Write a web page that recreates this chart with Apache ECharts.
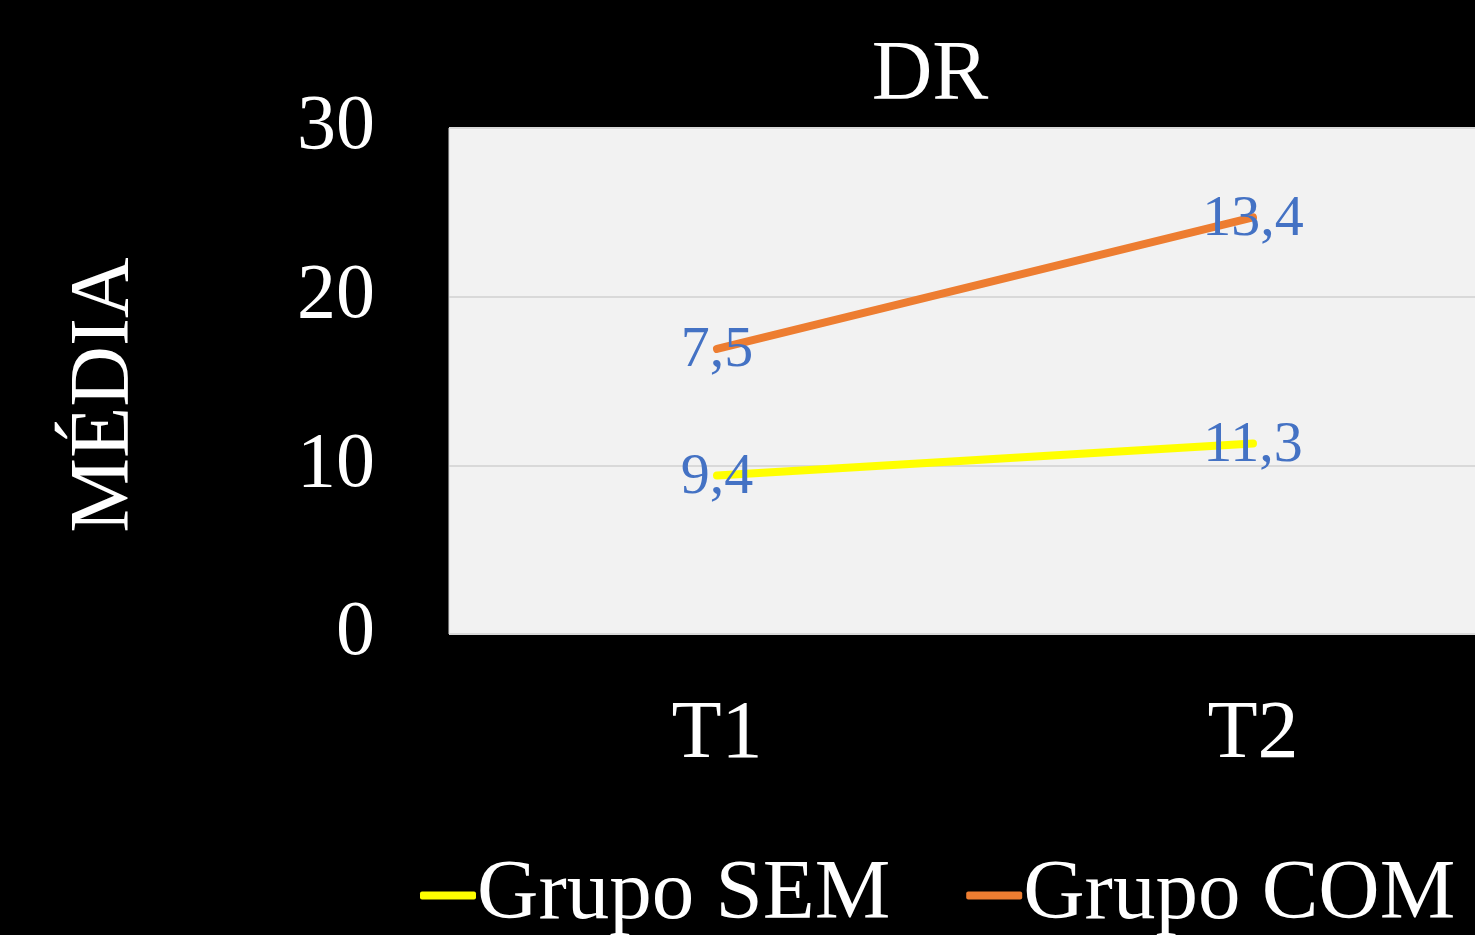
<!DOCTYPE html>
<html><head><meta charset="utf-8">
<script src="https://cdn.jsdelivr.net/npm/echarts@6/dist/echarts.min.js"></script>
<style>html,body{margin:0;padding:0;background:#000;overflow:hidden;width:1475px;height:935px;}#c{width:1521px;height:935px;}</style>
</head><body><div id="c"></div>
<script>
const categories = ['T1', 'T2'];
const grupoSEM = [9.4, 11.3];
const grupoCOM = [7.5, 13.4];
const yTicks = [0, 10, 20, 30];

const FONT = '"Liberation Serif", "Times New Roman", serif';
const chart = echarts.init(document.getElementById('c'));
const fmt = p => String(p.value).replace('.', ',');
const lbl = { show: true, position: 'inside', formatter: fmt, color: '#4472C4', fontFamily: FONT, fontSize: 58, offset: [0, 2] };
chart.setOption({
  backgroundColor: '#000000',
  animation: false,
  title: {
    text: 'DR', left: 925, top: 30, textAlign: 'center',
    textStyle: { color: '#fff', fontFamily: FONT, fontSize: 84, fontWeight: 'normal' }
  },
  grid: { left: 449, top: 128, bottom: 301, right: 0, show: true, backgroundColor: '#F2F2F2', borderColor: '#D9D9D9', borderWidth: 1 },
  legend: {
    left: 415, top: 848, itemWidth: 56, itemHeight: 8, itemGap: 76,
    icon: 'roundRect',
    textStyle: { color: '#fff', fontFamily: FONT, fontSize: 85, padding: [0,0,0,-4] },
    data: ['Grupo SEM', 'Grupo COM']
  },
  xAxis: {
    type: 'category', data: categories, boundaryGap: true,
    axisLine: { show: false }, axisTick: { show: false },
    axisLabel: { color: '#fff', fontFamily: FONT, fontSize: 82, margin: 60 }
  },
  yAxis: {
    type: 'value', min: yTicks[0], max: yTicks[yTicks.length - 1], interval: 10,
    name: 'MÉDIA', nameLocation: 'middle', nameGap: 301,
    nameTextStyle: { color: '#fff', fontFamily: FONT, fontSize: 84, padding: [0, 28, 0, 0] },
    axisLine: { show: false }, axisTick: { show: false },
    axisLabel: { color: '#fff', fontFamily: FONT, fontSize: 78, margin: 74 },
    splitLine: { lineStyle: { color: '#D9D9D9', width: 2 } }
  },
  series: [
    {
      name: 'Grupo SEM', type: 'line', stack: 'total', data: grupoSEM,
      symbol: 'circle', symbolSize: 1, showSymbol: true, color: '#FFFF00',
      lineStyle: { color: '#FFFF00', width: 8, cap: 'round' },
      label: lbl
    },
    {
      name: 'Grupo COM', type: 'line', stack: 'total', data: grupoCOM,
      symbol: 'circle', symbolSize: 1, showSymbol: true, color: '#ED7D31',
      lineStyle: { color: '#ED7D31', width: 8, cap: 'round' },
      label: lbl
    }
  ]
});
</script></body></html>
